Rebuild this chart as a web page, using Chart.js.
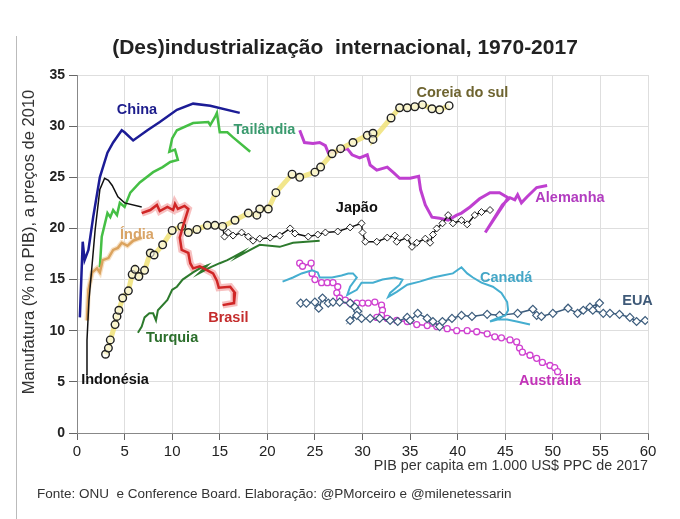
<!DOCTYPE html>
<html>
<head>
<meta charset="utf-8">
<script src="https://cdn.jsdelivr.net/npm/chart.js@4.4.1/dist/chart.umd.min.js"></script>
<style>
  html, body { margin: 0; padding: 0; background: #fff; }
  #wrap { width: 680px; height: 519px; position: relative; }
</style>
</head>
<body>
<div id="wrap"><canvas id="chart" width="680" height="519"></canvas></div>
<script>
// [PIB per capita (mil US$), manufatura % PIB]
const china = [[0.3,11.3],[0.6,18.7],[0.8,16.9],[1.2,17.9],[1.7,21.1],[2.4,25.0],[3.2,27.4],[3.8,28.4],[4.7,29.6],[5.0,29.4],[5.9,28.6],[7.4,29.6],[8.7,30.4],[10.5,31.6],[12.2,32.2],[14.0,32.0],[17.1,31.3]];
const indonesia = [[0.95,5.7],[1.05,9.1],[1.26,13.0],[1.6,16.6],[1.9,19.8],[2.4,23.8],[2.9,24.9],[3.3,24.7],[3.7,24.2],[4.3,23.1],[5.0,22.5],[6.8,22.1]];
const india = [[1.05,11.0],[1.2,14.0],[1.6,15.7],[2.1,16.1],[2.4,15.7],[2.7,16.9],[3.3,17.1],[3.8,17.9],[4.3,18.1],[4.7,18.6],[5.3,18.3],[5.9,18.8],[6.8,19.1]];
const tailandia = [[2.4,16.2],[2.6,19.2],[3.2,21.5],[3.5,21.1],[3.8,21.8],[4.2,21.3],[4.5,22.5],[5.0,22.1],[5.6,23.5],[6.6,24.5],[8.0,25.5],[9.0,26.0],[9.8,26.5],[10.6,26.7],[10.3,27.7],[9.7,27.5],[10.0,28.8],[10.5,29.6],[12.2,30.3],[13.8,30.4],[14.0,30.1],[14.5,30.9],[14.7,31.3],[15.0,29.4],[15.8,29.4],[16.4,28.9],[18.2,27.5]];
const brasil = [[6.8,21.5],[7.7,21.8],[8.4,22.3],[8.7,21.7],[9.5,22.1],[10.1,21.8],[10.3,22.4],[10.6,21.9],[11.3,22.2],[11.7,21.9],[11.1,20.1],[10.8,19.1],[11.0,17.9],[11.7,17.6],[11.9,16.6],[12.2,16.1],[12.9,16.3],[13.7,15.9],[14.3,15.6],[14.7,14.9],[14.9,14.2],[16.1,14.3],[16.6,13.7],[16.5,12.7],[15.3,12.5]];
const turquia = [[6.4,9.8],[6.8,10.4],[7.1,11.3],[7.6,11.7],[8.0,11.7],[8.3,11.0],[8.5,12.0],[9.5,13.0],[10.0,14.0],[10.5,14.3],[11.1,15.0],[12.2,15.7],[12.9,16.1],[13.7,16.4],[12.8,15.6],[14.0,16.2],[15.0,16.6],[15.8,16.9],[16.4,17.2],[17.4,17.7],[16.8,17.2],[18.2,17.9],[19.2,18.4],[21.3,18.2],[22.7,18.6],[25.5,18.8]];
const coreia = [[3.0,7.7],[3.3,8.3],[3.5,9.1],[4.0,10.6],[4.2,11.4],[4.4,12.0],[4.8,13.2],[5.4,13.9],[5.8,15.5],[6.1,16.0],[6.5,15.3],[7.1,15.9],[7.7,17.6],[8.1,17.4],[9.0,18.4],[10.0,19.8],[11.0,20.2],[11.7,19.6],[12.6,19.9],[13.7,20.3],[14.5,20.3],[15.3,20.2],[16.6,20.8],[18.0,21.5],[18.9,21.3],[19.2,21.9],[20.1,21.9],[20.9,23.5],[22.6,25.3],[23.4,25.0],[25.0,25.5],[25.6,26.0],[26.8,27.3],[27.7,27.8],[29.0,28.4],[30.5,29.1],[31.1,29.3],[31.1,28.7],[33.0,30.8],[33.9,31.8],[34.7,31.8],[35.5,31.9],[36.3,32.1],[37.3,31.7],[38.1,31.6],[39.1,32.0]];
const japao = [[15.3,20.1],[15.5,19.2],[15.9,19.6],[16.4,19.3],[17.3,19.6],[18.0,19.2],[18.5,18.8],[19.2,19.0],[20.3,19.1],[21.3,19.3],[22.4,20.0],[22.9,19.5],[24.3,19.2],[25.3,19.4],[26.1,19.6],[27.4,19.7],[28.7,20.1],[29.9,20.5],[30.0,19.6],[30.3,18.7],[31.5,18.7],[32.6,19.1],[33.4,19.3],[33.6,18.7],[34.7,19.1],[35.2,18.2],[35.7,18.6],[36.6,19.0],[37.1,18.6],[37.4,19.4],[37.8,20.0],[38.4,20.5],[39.0,21.3],[39.5,20.5],[40.4,20.8],[41.0,20.4],[41.8,21.3],[42.5,21.6],[43.4,21.8]];
const alemanha = [[23.4,29.6],[23.9,28.4],[24.8,28.3],[25.5,28.4],[26.1,28.1],[26.4,27.4],[27.3,27.5],[28.4,27.8],[28.9,27.2],[29.7,26.9],[30.5,27.2],[30.8,26.2],[31.5,25.7],[32.6,26.0],[33.2,25.5],[33.9,24.9],[35.0,24.9],[35.9,25.1],[36.1,23.8],[36.6,22.3],[37.3,21.1],[38.1,21.0],[39.0,20.8],[39.9,21.3],[40.4,21.5],[41.3,22.1],[42.3,22.9],[43.4,23.5],[44.4,23.5],[45.3,23.0],[42.9,19.6],[43.9,21.1],[44.7,22.3],[45.5,23.0],[46.0,22.8],[46.3,23.3],[46.7,22.5],[47.3,23.1],[48.3,24.0],[49.4,24.2]];
const canada = [[21.6,14.8],[22.7,15.2],[23.6,15.6],[24.7,15.9],[25.3,15.7],[25.5,15.2],[26.8,15.2],[27.8,15.4],[28.5,15.6],[29.0,15.6],[29.4,15.2],[28.7,14.3],[28.4,13.5],[29.4,14.0],[29.9,14.7],[31.1,14.7],[32.1,15.0],[33.4,15.2],[34.2,15.0],[33.9,14.5],[32.9,13.7],[32.7,13.3],[33.6,13.8],[34.7,14.5],[36.0,14.8],[37.4,15.2],[38.4,15.4],[39.5,15.6],[40.4,16.2],[41.0,15.6],[41.6,15.2],[42.5,14.7],[43.7,14.3],[44.6,13.7],[45.2,12.8],[45.3,12.0],[45.0,11.5],[44.1,11.2],[43.4,10.9],[44.2,11.1],[45.2,11.1],[46.2,10.9],[47.6,10.6]];
const eua = [[23.5,12.7],[24.1,12.7],[25.0,12.8],[25.4,12.2],[25.8,13.2],[26.4,12.7],[26.9,12.8],[27.6,12.8],[28.7,12.7],[29.2,12.3],[29.5,11.9],[28.7,11.0],[29.4,11.5],[29.9,11.2],[30.8,11.2],[31.8,11.2],[32.9,11.0],[33.7,10.9],[34.7,11.3],[35.0,11.0],[35.8,11.7],[36.8,11.2],[37.4,10.9],[38.1,10.4],[38.4,10.9],[39.4,11.2],[40.4,11.5],[41.5,11.4],[43.1,11.6],[44.4,11.5],[46.3,11.7],[47.9,12.1],[48.3,11.5],[48.8,11.4],[50.0,11.7],[51.6,12.2],[52.6,11.7],[53.2,12.0],[53.9,12.3],[54.9,12.7],[54.2,12.0],[55.3,11.7],[56.0,11.7],[57.0,11.6],[58.1,11.3],[58.8,10.9],[59.7,11.0]];
const australia = [[23.4,16.6],[23.7,16.3],[24.6,16.6],[24.7,15.6],[25.0,15.0],[25.7,14.7],[26.3,14.7],[26.9,14.7],[27.4,14.3],[27.3,13.7],[27.6,13.2],[28.2,13.0],[28.7,12.7],[29.4,12.7],[30.0,12.7],[30.6,12.7],[31.3,12.8],[32.0,12.5],[32.1,12.0],[32.0,11.5],[31.5,11.3],[32.6,11.2],[33.6,11.0],[34.7,10.9],[35.7,10.6],[36.8,10.5],[37.8,10.4],[38.9,10.2],[39.9,10.0],[41.0,10.0],[42.0,9.9],[43.1,9.7],[43.9,9.4],[44.6,9.3],[45.5,9.1],[46.2,8.9],[46.5,8.3],[46.8,7.9],[47.6,7.6],[48.3,7.3],[48.9,6.9],[49.7,6.6],[50.2,6.4],[50.5,6.0]];

// country names and where their labels sit (data units)
const labelNames = ['China', 'Tailândia', 'Índia', 'Indonésia', 'Brasil', 'Turquia', 'Coreia do sul', 'Japão', 'Alemanha', 'Canadá', 'EUA', 'Austrália'];
const labelX = [6.3, 19.7, 6.3, 4.0, 15.9, 10.0, 40.5, 29.4, 51.8, 45.1, 58.9, 49.7];
const labelY = [31.6, 29.6, 19.4, 5.2, 11.2, 9.3, 33.2, 22.0, 23.0, 15.2, 12.9, 5.1];
const labelColors = ['#1c1c8c', '#3a9a6e', '#d9a466', '#111', '#c42c2c', '#2b6e2b', '#6e6430', '#111', '#b23cc0', '#44a6c6', '#3f5a78', '#c234b8'];

const xTicksMax = 60, yTicksMax = 35;

const pts = arr => arr.map(([x, y]) => ({ x: x, y: y }));

function lineSet(data, color, width, extra) {
    return Object.assign({
        data: pts(data),
        showLine: true,
        borderColor: color,
        borderWidth: width,
        pointRadius: 0,
        fill: false,
        tension: 0,
        order: 1
    }, extra || {});
}

// text drawn on the canvas: title, axis titles, source, country labels
const textPlugin = {
    id: 'texts',
    afterDraw(chart) {
        const ctx = chart.ctx;
        const xs = chart.scales.x, ys = chart.scales.y;
        ctx.save();
        // frame line at the left
        ctx.strokeStyle = '#bbb';
        ctx.lineWidth = 1;
        ctx.beginPath();
        ctx.moveTo(16.5, 36);
        ctx.lineTo(16.5, 519);
        ctx.stroke();

        ctx.fillStyle = '#222';
        ctx.textAlign = 'center';
        ctx.textBaseline = 'middle';
        ctx.font = 'bold 21px "Liberation Sans", Arial, sans-serif';
        ctx.fillText('(Des)industrialização  internacional, 1970-2017', 345, 48);

        ctx.font = '14.3px "Liberation Sans", Arial, sans-serif';
        ctx.fillStyle = '#333';
        ctx.textAlign = 'right';
        ctx.fillText('PIB per capita em 1.000 US$ PPC de 2017', 648, 466);

        ctx.textAlign = 'left';
        ctx.font = '13.5px "Liberation Sans", Arial, sans-serif';
        ctx.fillText('Fonte: ONU  e Conference Board. Elaboração: @PMorceiro e @milenetessarin', 37, 494);

        ctx.save();
        ctx.translate(29, 242);
        ctx.rotate(-Math.PI / 2);
        ctx.textAlign = 'center';
        ctx.font = '16.5px "Liberation Sans", Arial, sans-serif';
        ctx.fillText('Manufatura (% no PIB), a preços de 2010', 0, 0);
        ctx.restore();

        ctx.font = 'bold 14.5px "Liberation Sans", Arial, sans-serif';
        ctx.textAlign = 'center';
        labelNames.forEach((name, i) => {
            ctx.fillStyle = labelColors[i];
            ctx.fillText(name, xs.getPixelForValue(labelX[i]), ys.getPixelForValue(labelY[i]));
        });
        ctx.restore();
    }
};

const ctx = document.getElementById('chart').getContext('2d');
const chart = new Chart(ctx, {
    type: 'scatter',
    data: {
        datasets: [
            lineSet(china, '#1c1c96', 2.5),
            lineSet(indonesia, '#111', 1.5),
            lineSet(india, '#dba35e', 2.5),
            lineSet(tailandia, '#45bf45', 2.5),
            lineSet(brasil, '#d02626', 2.5),
            lineSet(turquia, '#2d7a2d', 2),
            lineSet(coreia, 'rgba(240,226,120,0.85)', 5, {
                pointRadius: 3.8, pointBorderColor: '#222', pointBorderWidth: 1.4,
                pointBackgroundColor: 'rgba(255,255,245,0.6)'
            }),
            lineSet(japao, '#111', 1.5, {
                pointRadius: 3.5, pointStyle: 'rectRot', pointBorderColor: '#222',
                pointBorderWidth: 1, pointBackgroundColor: '#fff'
            }),
            lineSet(alemanha, '#bf3fd0', 3),
            lineSet(canada, '#45aed0', 2),
            lineSet(eua, '#3d5d7d', 1.5, {
                pointRadius: 4, pointStyle: 'rectRot', pointBorderColor: '#3d5d7d',
                pointBorderWidth: 1.2, pointBackgroundColor: '#fff'
            }),
            lineSet(australia, '#c93ccb', 1.5, {
                pointRadius: 3, pointBorderColor: '#d040d0',
                pointBorderWidth: 1.3, pointBackgroundColor: '#fff'
            }),
            // soft halos under Brasil and India
            lineSet(brasil, 'rgba(240,140,140,0.55)', 7, { order: 5 }),
            lineSet(india, 'rgba(240,200,150,0.55)', 5, { order: 5 })
        ]
    },
    options: {
        responsive: false,
        animation: false,
        layout: { padding: { left: 37, top: 75, right: 32, bottom: 56 } },
        plugins: { legend: { display: false }, tooltip: { enabled: false } },
        scales: {
            x: {
                type: 'linear',
                min: 0, max: xTicksMax,
                afterFit: s => { s.height = 30; },
                ticks: { stepSize: 5, color: '#222', padding: 3, font: { size: 15, family: '"Liberation Sans", Arial' } },
                grid: { color: '#dedede', tickColor: '#666', tickLength: 7 },
                border: { color: '#888' }
            },
            y: {
                min: 0, max: yTicksMax,
                afterFit: s => { s.width = 40; },
                ticks: { stepSize: 5, color: '#222', padding: 4, font: { size: 14, weight: 'bold', family: '"Liberation Sans", Arial' } },
                grid: { color: '#dedede', tickColor: '#666', tickLength: 8 },
                border: { color: '#888' }
            }
        }
    },
    plugins: [textPlugin]
});
</script>
</body>
</html>
